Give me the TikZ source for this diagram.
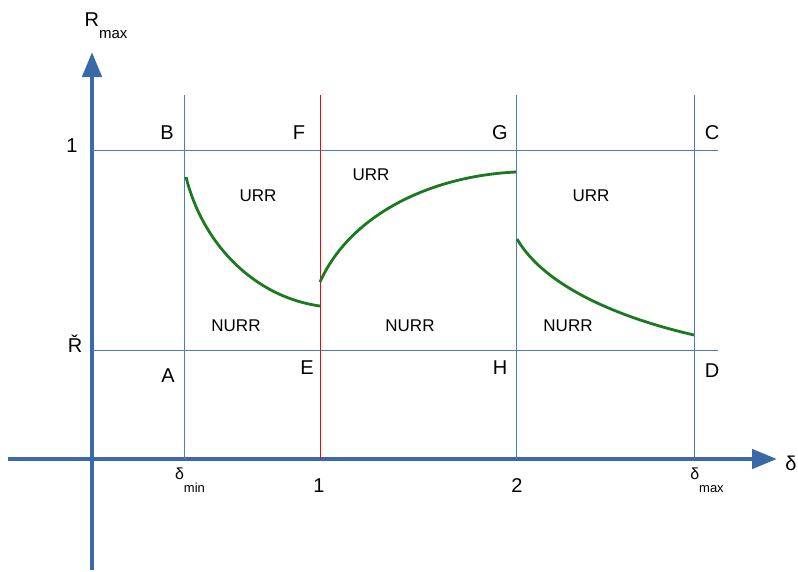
\documentclass[tikz,border=0pt]{standalone}
\usepackage{fontspec}
\setmainfont{Liberation Sans}
\usetikzlibrary{arrows.meta}
\definecolor{axisblue}{HTML}{3A69A8}
\definecolor{gridblue}{HTML}{4A7BC4}
\definecolor{curvegreen}{HTML}{1B7A1F}
\tikzset{
  axisline/.style={axisblue,line width=4.5pt,-{Triangle[width=19pt,length=25pt]}},
  gridline/.style={gridblue,line width=1pt},
  redline/.style={red,line width=1pt},
  curveline/.style={curvegreen,line width=2.8pt},
  lbl/.style={font=\fontsize{20}{24}\selectfont,inner sep=0pt},
  region/.style={font=\fontsize{17}{20}\selectfont,inner sep=0pt},
}
\begin{document}
\begin{tikzpicture}[x=1pt,y=-1pt]
\useasboundingbox (0,0) rectangle (798,571);
% axes
\coordinate (ybot) at (92,570);
\coordinate (ytop) at (92,52);
\coordinate (xleft) at (8,459);
\coordinate (xright) at (777,459);
\draw[axisline] (ybot) -- (ytop);
\draw[axisline] (xleft) -- (xright);
% grid coordinates
\coordinate (h1l) at (92,150);
\coordinate (h1r) at (718,150);
\coordinate (h2l) at (92,350);
\coordinate (h2r) at (718,350);
\coordinate (v1t) at (184,95);  \coordinate (v1b) at (184,459);
\coordinate (v2t) at (320,95);  \coordinate (v2b) at (320,459);
\coordinate (v3t) at (516,95);  \coordinate (v3b) at (516,459);
\coordinate (v4t) at (694,95);  \coordinate (v4b) at (694,459);
\draw[gridline] (h1l) -- (h1r);
\draw[gridline] (h2l) -- (h2r);
\draw[gridline] (v1t) -- (v1b);
\draw[gridline] (v3t) -- (v3b);
\draw[gridline] (v4t) -- (v4b);
\draw[redline] (v2t) -- (v2b);
% curves
\coordinate (c1s) at (186,177); \coordinate (c1e) at (320,306);
\coordinate (c2s) at (320,282); \coordinate (c2e) at (516,172);
\coordinate (c3s) at (517,239); \coordinate (c3e) at (694,335);
\draw[curveline] (c1s) .. controls (203,245) and (255,297) .. (c1e);
\draw[curveline] (c2s) .. controls (350,215) and (430,176) .. (c2e);
\draw[curveline] (c3s) .. controls (545,287) and (620,318) .. (c3e);
% axis labels
\node[lbl] (rmax) at (106,26) {R\raisebox{-1.1ex}{\fontsize{15}{17}\selectfont max}};
\node[lbl] (delta) at (791,463) {δ};
\node[lbl] (one) at (72,146) {1};
\node[lbl] (rcheck) at (75,344) {Ř};
\node[lbl,font=\fontsize{16}{19}\selectfont] (dmin) at (190,480) {δ\raisebox{-1.5ex}{\fontsize{13}{15}\selectfont min}};
\node[lbl] (xone) at (319,486) {1};
\node[lbl] (xtwo) at (517,486) {2};
\node[lbl,font=\fontsize{16}{19}\selectfont] (dmax) at (707,480) {δ\raisebox{-1.5ex}{\fontsize{13}{15}\selectfont max}};
% point labels
\node[lbl] (B) at (167,133) {B};
\node[lbl] (F) at (299,133) {F};
\node[lbl] (G) at (500,133) {G};
\node[lbl] (C) at (712,133) {C};
\node[lbl] (A) at (168,376) {A};
\node[lbl] (E) at (307,368) {E};
\node[lbl] (H) at (500,368) {H};
\node[lbl] (D) at (712,371) {D};
% regions
\node[region] (u1) at (258,196) {URR};
\node[region] (u2) at (371,175) {URR};
\node[region] (u3) at (591,196) {URR};
\node[region] (n1) at (236,326) {NURR};
\node[region] (n2) at (410,326) {NURR};
\node[region] (n3) at (568,326) {NURR};
\end{tikzpicture}
\end{document}
